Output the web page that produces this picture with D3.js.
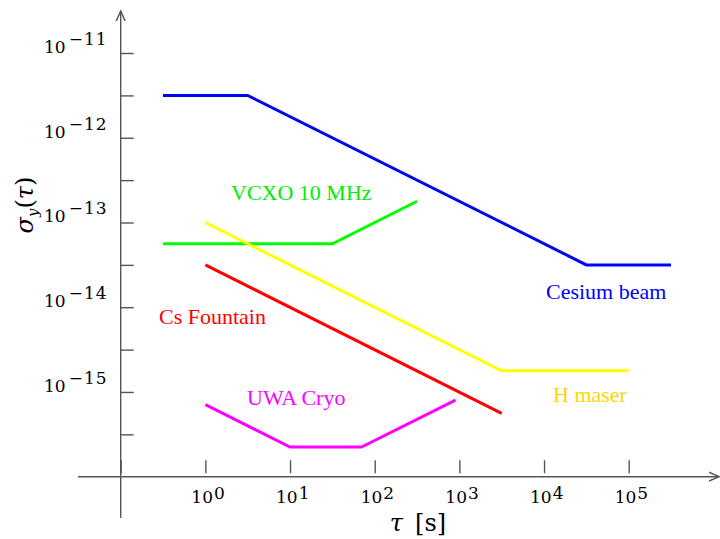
<!DOCTYPE html>
<html>
<head>
<meta charset="utf-8">
<script src="https://cdn.jsdelivr.net/npm/d3@7"></script>
<style>
  body { margin: 0; background: #fff; }
  text { font-family: "DejaVu Serif", serif; }
</style>
</head>
<body>
<script>
// Allan deviation curves (tau in s, sigma_y)
let names = ['Cesium beam', 'VCXO 10 MHz', 'H maser', 'Cs Fountain', 'UWA Cryo'];

let cesiumTau   = [0.316, 3.16, 31600, 316000];
let cesiumSigma = [3.16e-12, 3.16e-12, 3.16e-14, 3.16e-14];

let vcxoTau   = [0.316, 31.6, 316];
let vcxoSigma = [5.6e-14, 5.6e-14, 1.78e-13];

let hmaserTau   = [1, 3160, 100000];
let hmaserSigma = [1e-13, 1.78e-15, 1.78e-15];

let fountainTau   = [1, 3160];
let fountainSigma = [3.16e-14, 5.6e-16];

let cryoTau   = [1, 10, 70, 900];
let cryoSigma = [7.1e-16, 2.24e-16, 2.24e-16, 8e-16];

let xTicks = [1e-1, 1e0, 1e1, 1e2, 1e3, 1e4, 1e5];
let xTickLabels = ['0', '1', '2', '3', '4', '5'];          // exponents for 10^0..10^5
let yTicks = [1e-11, 3.16e-12, 1e-12, 3.16e-13, 1e-13, 3.16e-14, 1e-14, 3.16e-15, 1e-15, 3.16e-16];
let yTickLabels = ['\u221211', '\u221212', '\u221213', '\u221214', '\u221215'];

let width = 720,
    height = 539;

let svg = d3.select('body')
            .append('svg')
            .attr('width', width)
            .attr('height', height)

//scales: one decade is about 84.7px on both axes
let xScale = d3.scaleLog()
              .domain([1e-1, 1e5])
              .range([120.7, 628.7])

let yScale = d3.scaleLog()
              .domain([1e-16, 1e-11])
              .range([476.7, 53])

let axisColor = '#555';

//axis lines with arrow heads
svg.append('defs').append('marker')
  .attr('id', 'arrow')
  .attr('viewBox', '0 0 10 10')
  .attr('refX', 9).attr('refY', 5)
  .attr('markerWidth', 8).attr('markerHeight', 8)
  .attr('orient', 'auto')
  .append('path')
  .attr('d', 'M0,1 L9,5 L0,9')
  .attr('fill', 'none')
  .attr('stroke', axisColor)
  .attr('stroke-width', 1.3)

svg.append('line')
  .attr('x1', 78).attr('x2', 719)
  .attr('y1', yScale(1e-16)).attr('y2', yScale(1e-16))
  .attr('stroke', axisColor).attr('stroke-width', 1.4)
  .attr('marker-end', 'url(#arrow)')

svg.append('line')
  .attr('x1', xScale(1e-1)).attr('x2', xScale(1e-1))
  .attr('y1', 518).attr('y2', 11)
  .attr('stroke', axisColor).attr('stroke-width', 1.4)
  .attr('marker-end', 'url(#arrow)')

//ticks through d3 axes, labels drawn separately
let yAxis = svg.append('g')
              .attr('transform', `translate(${xScale(1e-1)}, 0)`)
              .call(d3.axisRight(yScale).tickValues(yTicks).tickSize(13).tickFormat(''))
yAxis.select('.domain').remove()
yAxis.selectAll('line').attr('stroke', axisColor).attr('stroke-width', 1.4)

let xAxis = svg.append('g')
              .attr('transform', `translate(0, ${yScale(1e-16) - 3.5})`)
              .call(d3.axisTop(xScale).tickValues(xTicks).tickSize(13).tickFormat(''))
xAxis.select('.domain').remove()
xAxis.selectAll('line').attr('stroke', axisColor).attr('stroke-width', 1.4)

//y tick labels 10^-11 .. 10^-15
let yMajor = yTicks.filter((d, i) => i % 2 == 0);
yMajor.forEach((v, i) => {
  let t = svg.append('text')
    .attr('x', 44)
    .attr('y', yScale(v))
    .style('font-size', '17px')
    .style('fill', '#000')
  t.append('tspan').text('10')
  t.append('tspan').attr('dy', -8).attr('dx', 3).style('letter-spacing', '1px').text(yTickLabels[i])
})

//x tick labels 10^0 .. 10^5
xTicks.slice(1).forEach((v, i) => {
  let t = svg.append('text')
    .attr('x', xScale(v) - 14)
    .attr('y', 503)
    .style('font-size', '17px')
    .style('fill', '#000')
  t.append('tspan').text('10')
  t.append('tspan').attr('dy', -4).attr('dx', 1).text(xTickLabels[i])
})

//axis titles
let xTitle = svg.append('text')
  .attr('x', 418)
  .attr('y', 531)
  .style('text-anchor', 'middle')
  .style('font-size', '24px')
xTitle.append('tspan').style('font-style', 'italic').text('\u03c4')
xTitle.append('tspan').text('\u2002[s]')

let yTitle = svg.append('text')
  .attr('transform', 'translate(33, 205) rotate(-90)')
  .style('text-anchor', 'middle')
  .style('font-size', '24px')
yTitle.append('tspan').style('font-style', 'italic').text('\u03c3')
yTitle.append('tspan').attr('dy', 5).style('font-size', '15px').style('font-style', 'italic').text('y')
yTitle.append('tspan').attr('dy', -5).text('(')
yTitle.append('tspan').style('font-style', 'italic').text('\u03c4')
yTitle.append('tspan').text(')')

//draw the curves
let series = [
  { tau: cesiumTau,   sigma: cesiumSigma,   color: '#0000ff' },
  { tau: vcxoTau,     sigma: vcxoSigma,     color: '#00ff00' },
  { tau: hmaserTau,   sigma: hmaserSigma,   color: '#ffff00' },
  { tau: fountainTau, sigma: fountainSigma, color: '#ff0000' },
  { tau: cryoTau,     sigma: cryoSigma,     color: '#ff00ff' }
];

let line = d3.line()
            .x(d => xScale(d[0]))
            .y(d => yScale(d[1]))

series.forEach(s => {
  svg.append('path')
    .datum(d3.zip(s.tau, s.sigma))
    .attr('d', line)
    .attr('stroke', s.color)
    .attr('stroke-width', 3)
    .attr('fill', 'none')
})

//curve names
let nameSpots = [
  { x: 546, y: 299, color: '#0000ff' },
  { x: 231, y: 200, color: '#00ee00' },
  { x: 553, y: 402, color: '#ffd700' },
  { x: 159, y: 324, color: '#ff0000' },
  { x: 247, y: 405, color: '#ff00ff' }
];

names.forEach((n, i) => {
  svg.append('text')
    .attr('x', nameSpots[i].x)
    .attr('y', nameSpots[i].y)
    .text(n)
    .style('font-family', '"Liberation Serif", serif')
    .style('font-size', '22px')
    .style('fill', nameSpots[i].color)
})
</script>
</body>
</html>
